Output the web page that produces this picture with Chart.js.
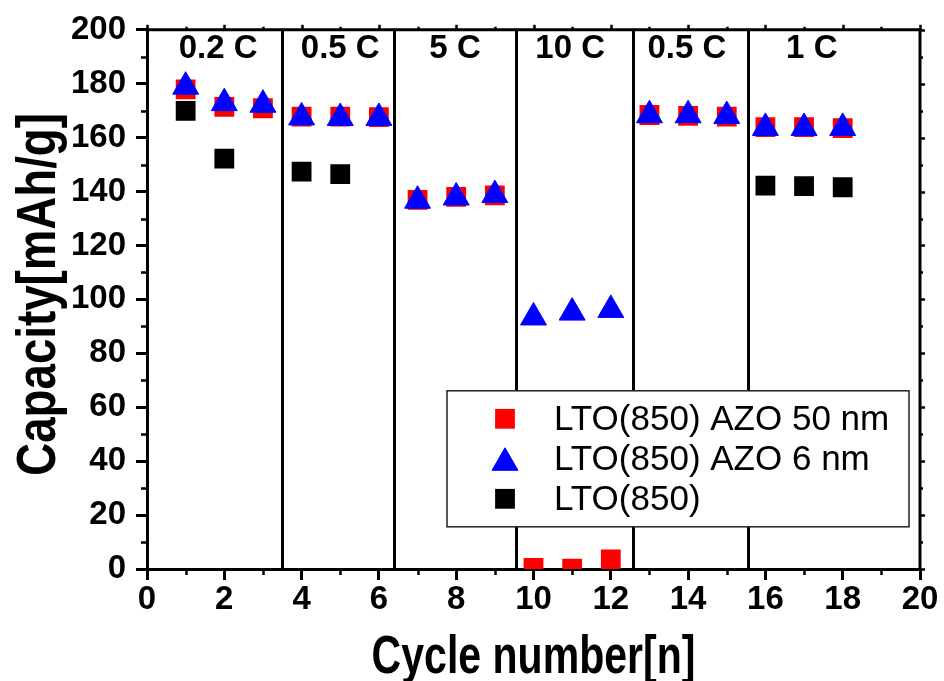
<!DOCTYPE html>
<html>
<head>
<meta charset="utf-8">
<script src="https://cdn.jsdelivr.net/npm/chart.js@4.4.1/dist/chart.umd.min.js"></script>
<style>
  html, body { margin: 0; padding: 0; background: #ffffff; }
  #wrap { width: 944px; height: 681px; }
</style>
</head>
<body>
<div id="wrap"><canvas id="c" width="944" height="681"></canvas></div>
<script>
// Rate-capability test: discharge capacity per cycle
const cycles    = [1, 2, 3, 4, 5, 6, 7, 8, 9, 10, 11, 12, 13, 14, 15, 16, 17, 18];
const capAzo50  = [177.9, 171.4, 170.9, 167.8, 167.8, 167.6, 136.9, 138.0, 138.6, 0.4, 0.1, 3.6, 168.4, 168.1, 167.8, 163.9, 163.9, 163.5];
const capAzo6   = [178.9, 172.8, 172.2, 167.5, 167.3, 167.3, 136.6, 137.8, 138.7, 93.3, 95.1, 96.1, 168.3, 168.3, 168.0, 163.6, 163.6, 163.6];
const capBare   = [169.9, 152.2, null, 147.4, 146.5, null, null, null, null, null, null, null, null, null, null, 142.2, 142.0, 141.6];

const seriesNames = ['LTO(850) AZO 50 nm', 'LTO(850) AZO 6 nm', 'LTO(850)'];
const xTitle = 'Cycle number[n]';
const yTitle = 'Capacity[mAh/g]';

// C-rate segments: boundaries between steps and the label of each step
const rateBoundaries = [3.5, 6.4, 9.55, 12.58, 15.56];
const rateLabels     = ['0.2 C', '0.5 C', '5 C', '10 C', '0.5 C', '1 C'];
const rateLabelCycle = [1.84, 5.0, 7.97, 10.95, 13.97, 17.2];
const rateLabelLevel = 193;

const xMin = 0, xMax = 20, xStep = 2;
const yMin = 0, yMax = 200, yStep = 20;

const FAMILY = '"Liberation Sans", Arial, Helvetica, sans-serif';

function points(values) {
  const out = [];
  cycles.forEach((c, i) => { if (values[i] !== null) out.push({ x: c, y: values[i] }); });
  return out;
}

const markers = [
  { color: '#ff0000', style: 'rect',     radius: 14, border: 0 },
  { color: '#0000ff', style: 'triangle', radius: 15, border: 1 },
  { color: '#000000', style: 'rect',     radius: 14, border: 0 }
];

// condensed bold text: drawn with a horizontal squeeze
function condensedText(ctx, text, x, y, size, squeeze, rotation) {
  ctx.save();
  ctx.translate(x, y);
  ctx.rotate(rotation);
  ctx.scale(squeeze, 1);
  ctx.font = 'bold ' + size + 'px ' + FAMILY;
  ctx.textAlign = 'center';
  ctx.textBaseline = 'alphabetic';
  ctx.fillStyle = '#000';
  ctx.fillText(text, 0, 0);
  ctx.restore();
}

// Panel decorations: step separators, rate labels, minor/mirror ticks, axis titles, boxed legend
const panelPlugin = {
  id: 'panel',
  beforeDatasetsDraw(chart) {
    const { ctx, scales: { x, y } } = chart;
    ctx.save();
    ctx.strokeStyle = '#000';
    ctx.lineWidth = 3;
    rateBoundaries.forEach(b => {
      const px = Math.round(x.getPixelForValue(b)) + 0.5;
      ctx.beginPath();
      ctx.moveTo(px, y.getPixelForValue(yMin));
      ctx.lineTo(px, y.getPixelForValue(yMax));
      ctx.stroke();
    });
    ctx.fillStyle = '#000';
    ctx.font = 'bold 33px ' + FAMILY;
    ctx.textAlign = 'center';
    ctx.textBaseline = 'middle';
    rateLabels.forEach((t, i) => {
      ctx.fillText(t, x.getPixelForValue(rateLabelCycle[i]), y.getPixelForValue(rateLabelLevel));
    });
    ctx.restore();
  },
  afterDraw(chart) {
    const { ctx, chartArea: a, scales: { x, y } } = chart;
    ctx.save();
    ctx.strokeStyle = '#000';
    ctx.lineCap = 'butt';

    // top and right frame lines
    ctx.lineWidth = 3;
    ctx.beginPath();
    ctx.moveTo(a.left - 1.5, a.top);
    ctx.lineTo(a.right, a.top);
    ctx.lineTo(a.right, a.bottom + 1.5);
    ctx.stroke();

    // minor ticks on bottom and left, mirrored ticks on top and right
    ctx.lineWidth = 2.5;
    for (let v = xMin; v <= xMax; v += xStep / 2) {
      const px = Math.round(x.getPixelForValue(v)) + 0.5;
      const major = (v % xStep) === 0;
      ctx.beginPath();
      if (!major) { ctx.moveTo(px, a.bottom); ctx.lineTo(px, a.bottom + 6); }
      ctx.moveTo(px, a.top); ctx.lineTo(px, a.top - (major ? 5 : 3));
      ctx.stroke();
    }
    for (let v = yMin; v <= yMax; v += yStep / 2) {
      const py = Math.round(y.getPixelForValue(v)) + 0.5;
      const major = (v % yStep) === 0;
      ctx.beginPath();
      if (!major) { ctx.moveTo(a.left, py); ctx.lineTo(a.left - 6, py); }
      ctx.moveTo(a.right, py); ctx.lineTo(a.right + (major ? 5 : 3), py);
      ctx.stroke();
    }

    // axis titles
    condensedText(ctx, xTitle, (a.left + a.right) / 2, 673, 54, 0.76, 0);
    condensedText(ctx, yTitle, 55, (a.top + a.bottom) / 2 - 5, 55, 0.83, -Math.PI / 2);

    // legend box
    const lx = a.right - 473, ly = a.top + 361, lw = 462, lh = 136;
    ctx.fillStyle = '#fff';
    ctx.fillRect(lx, ly, lw, lh);
    ctx.lineWidth = 1.5;
    ctx.strokeStyle = '#222';
    ctx.strokeRect(lx, ly, lw, lh);
    ctx.font = '35px ' + FAMILY;
    ctx.textAlign = 'left';
    ctx.textBaseline = 'middle';
    seriesNames.forEach((name, i) => {
      const rowY = ly + 28 + i * 40;
      const m = markers[i];
      ctx.fillStyle = m.color;
      ctx.strokeStyle = m.color;
      ctx.lineWidth = m.border;
      const my = m.style === 'triangle' ? rowY + 4 : rowY;
      Chart.helpers.drawPoint(ctx, { pointStyle: m.style, radius: m.radius, rotation: 0, borderWidth: m.border }, lx + 58, my);
      ctx.fillStyle = '#000';
      ctx.fillText(name, lx + 107, rowY + 2);
    });
    ctx.restore();
  }
};

const values = [capAzo50, capAzo6, capBare];
const drawOrder = [1, 0, 2];

new Chart(document.getElementById('c'), {
  type: 'scatter',
  data: {
    datasets: values.map((vals, i) => ({
      label: seriesNames[i],
      data: points(vals),
      order: drawOrder[i],
      showLine: false,
      pointStyle: markers[i].style,
      pointRadius: markers[i].radius,
      pointBackgroundColor: markers[i].color,
      pointBorderColor: markers[i].color,
      pointBorderWidth: markers[i].border,
      clip: 0
    }))
  },
  options: {
    responsive: false,
    animation: false,
    events: [],
    layout: { padding: { top: 26, right: 24, left: 0, bottom: 0 } },
    plugins: { legend: { display: false }, tooltip: { enabled: false } },
    scales: {
      x: {
        type: 'linear',
        min: xMin, max: xMax,
        afterFit(s) { s.height = 112; },
        border: { display: true, color: '#000', width: 3 },
        grid: { display: true, drawOnChartArea: false, drawTicks: true, tickLength: 11, tickWidth: 3, tickColor: '#000' },
        ticks: { stepSize: xStep, color: '#000', padding: 0, maxRotation: 0,
                 font: { family: FAMILY, size: 33, weight: 'bold' } },
        title: { display: false }
      },
      y: {
        type: 'linear',
        min: yMin, max: yMax,
        afterFit(s) { s.width = 147; },
        border: { display: true, color: '#000', width: 3 },
        grid: { display: true, drawOnChartArea: false, drawTicks: true, tickLength: 11, tickWidth: 3, tickColor: '#000' },
        ticks: { stepSize: yStep, color: '#000', padding: 10,
                 font: { family: FAMILY, size: 33, weight: 'bold' } },
        title: { display: false }
      }
    }
  },
  plugins: [panelPlugin]
});
</script>
</body>
</html>
